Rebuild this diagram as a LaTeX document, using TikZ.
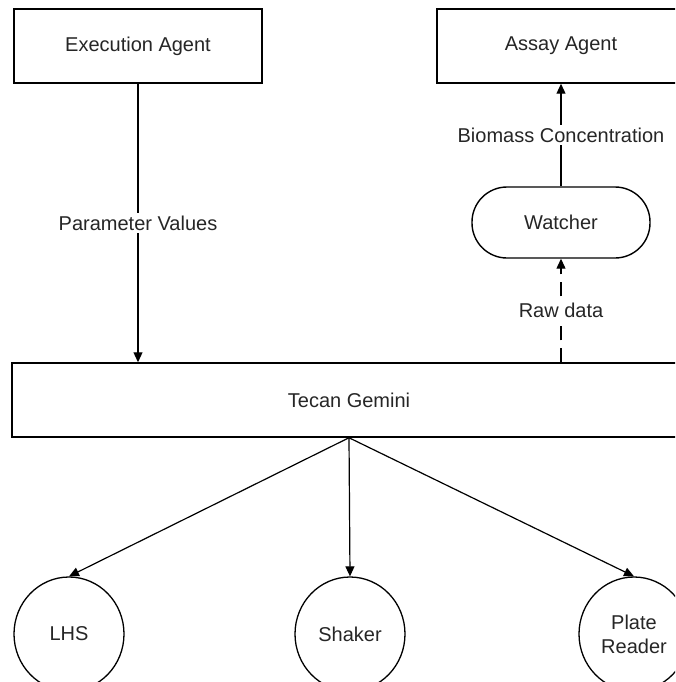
\documentclass[tikz,border=0pt]{standalone}
\usepackage{fontspec}
\setmainfont{Liberation Sans}
\usetikzlibrary{arrows.meta,shapes.geometric}

\begin{document}
\begin{tikzpicture}[x=1pt,y=1pt,
        every node/.style={font=\fontsize{20}{24}\selectfont,text=black!85},
        box/.style={draw,line width=1.5pt,minimum width=248pt,minimum height=74pt,inner sep=0pt},
        roundbox/.style={draw,line width=1.4pt,rounded corners=35pt,minimum width=178pt,minimum height=71pt},
        unit/.style={draw,ellipse,line width=1.3pt,minimum width=110pt,minimum height=114pt,inner sep=0pt},
        flow/.style={line width=1.2pt,-{Triangle[length=10pt,width=9pt]}},
        lbl/.style={fill=white,inner sep=3pt}]
    \useasboundingbox (0,0) rectangle (675,-682);
    \fill[white] (0,0) rectangle (675,-682);
    \clip (0,0) rectangle (675,-682);
    % Agents on top
    \node[box] (exec) at (138,-46) {Execution Agent};
    \node[box] (assay) at (561,-46) {Assay Agent};
    \node[roundbox] (watcher) at (561,-222.5) {Watcher};
    % The robot and its units
    \node[box,minimum width=674pt] (tecan) at (349,-400) {Tecan Gemini};
    \node[unit] (lhs) at (69,-634) {LHS};
    \node[unit] (shaker) at (350,-634) {Shaker};
    \node[unit,align=center] (plate) at (634,-634) {Plate\\Reader};
    % Data flow
    \draw[flow] (exec.south) -- node[lbl] {Parameter Values} (exec.south |- tecan.north);
    \draw[flow,dash pattern=on 14pt off 8pt] (watcher.south |- tecan.north) -- node[lbl] {Raw data} (watcher.south);
    \draw[flow] (watcher.north) -- node[lbl] {Biomass Concentration} (assay.south);
    \draw[flow] (tecan.south) -- (lhs.north);
    \draw[flow] (tecan.south) -- (shaker.north);
    \draw[flow] (tecan.south) -- (plate.north);
\end{tikzpicture}
\end{document}
